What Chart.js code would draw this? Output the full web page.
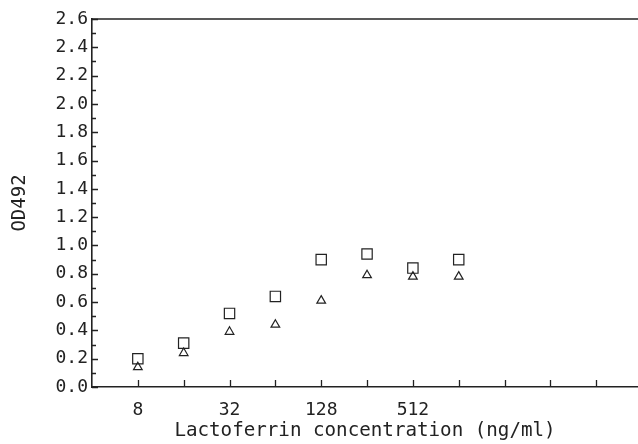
<!DOCTYPE html>
<html>
<head>
<meta charset="utf-8">
<script src="https://cdn.jsdelivr.net/npm/chart.js@4"></script>
<style>
html,body{margin:0;padding:0;background:#fff;}
#wrap{width:638px;height:444px;}
</style>
</head>
<body>
<div id="wrap"><canvas id="c" width="638" height="444"></canvas></div>
<script>
// Lactoferrin concentration (ng/ml)
const concentrations = [8, 16, 32, 64, 128, 256, 512, 1024];
const squareSeries = [0.20, 0.31, 0.52, 0.64, 0.90, 0.94, 0.84, 0.90];
const triangleSeries = [0.14, 0.24, 0.39, 0.44, 0.61, 0.79, 0.78, 0.78];
const xTickValues = [8, 16, 32, 64, 128, 256, 512, 1024, 2048, 4096, 8192];
const xTickLabels = ['8', '', '32', '', '128', '', '512', '', '', '', ''];
const yTickValues = [0,0.1,0.2,0.3,0.4,0.5,0.6,0.7,0.8,0.9,1.0,1.1,1.2,1.3,1.4,1.5,1.6,1.7,1.8,1.9,2.0,2.1,2.2,2.3,2.4,2.5,2.6];

const FONT = "'DejaVu Sans Mono', monospace";
const INK = '#222';

const innerTicks = {
  id: 'innerTicks',
  afterDraw(chart) {
    const ctx = chart.ctx, a = chart.chartArea;
    const xs = chart.scales.x, ys = chart.scales.y;
    ctx.save();
    ctx.strokeStyle = INK;
    ctx.lineWidth = 1.3;
    ctx.beginPath();
    xs.ticks.forEach(t => {
      const px = Math.round(xs.getPixelForValue(t.value)) + 0.5;
      ctx.moveTo(px, a.bottom);
      ctx.lineTo(px, a.bottom - 7);
    });
    ys.ticks.forEach((t, i) => {
      const py = Math.round(ys.getPixelForValue(t.value)) + 0.5;
      const len = (i % 2 === 0) ? 6 : 4;
      ctx.moveTo(a.left, py);
      ctx.lineTo(a.left + len, py);
    });
    ctx.stroke();
    // top frame line
    ctx.lineWidth = 1.6;
    ctx.beginPath();
    ctx.moveTo(a.left, a.top);
    ctx.lineTo(a.right, a.top);
    ctx.stroke();
    ctx.restore();
  }
};

new Chart(document.getElementById('c'), {
  type: 'scatter',
  data: {
    datasets: [
      {
        label: 'squares',
        data: concentrations.map((c, i) => ({x: c, y: squareSeries[i]})),
        pointStyle: 'rect',
        pointRadius: 7.3,
        pointHoverRadius: 7.3,
        borderColor: INK,
        backgroundColor: 'rgba(0,0,0,0)',
        borderWidth: 1.2
      },
      {
        label: 'triangles',
        data: concentrations.map((c, i) => ({x: c, y: triangleSeries[i]})),
        pointStyle: 'triangle',
        pointRadius: 5,
        pointHoverRadius: 5,
        borderColor: INK,
        backgroundColor: 'rgba(0,0,0,0)',
        borderWidth: 1.2
      }
    ]
  },
  options: {
    responsive: false,
    animation: false,
    events: [],
    layout: {autoPadding: false, padding: {top: 19, right: 0, left: 0, bottom: 0}},
    plugins: {legend: {display: false}, tooltip: {enabled: false}},
    scales: {
      x: {
        type: 'logarithmic',
        min: 4,
        max: 15400,
        afterBuildTicks(scale) { scale.ticks = xTickValues.map(v => ({value: v})); },
        afterFit(scale) { scale.height = 57; scale.paddingLeft = 0; scale.paddingRight = 0; },
        grid: {display: false, drawTicks: false},
        border: {display: true, color: INK, width: 1.6},
        ticks: {
          autoSkip: false,
          maxRotation: 0,
          padding: 13,
          color: INK,
          font: {family: FONT, size: 18},
          callback: (v, i) => xTickLabels[i]
        },
        title: {
          display: true,
          text: 'Lactoferrin concentration (ng/ml)',
          color: INK,
          font: {family: FONT, size: 19.2},
          padding: {top: 0, bottom: 1}
        }
      },
      y: {
        min: 0,
        max: 2.6,
        afterBuildTicks(scale) { scale.ticks = yTickValues.map(v => ({value: v})); },
        afterFit(scale) { scale.width = 92; scale.paddingTop = 0; scale.paddingBottom = 0; },
        grid: {display: false, drawTicks: false},
        border: {display: true, color: INK, width: 1.6},
        ticks: {
          autoSkip: false,
          padding: 4,
          color: INK,
          font: {family: FONT, size: 18},
          callback: (v, i) => (i % 2 === 0 ? Number(v).toFixed(1) : '')
        },
        title: {
          display: true,
          text: 'OD492',
          color: INK,
          font: {family: FONT, size: 19},
          padding: {top: 9, bottom: 0}
        }
      }
    }
  },
  plugins: [innerTicks]
});
</script>
</body>
</html>
